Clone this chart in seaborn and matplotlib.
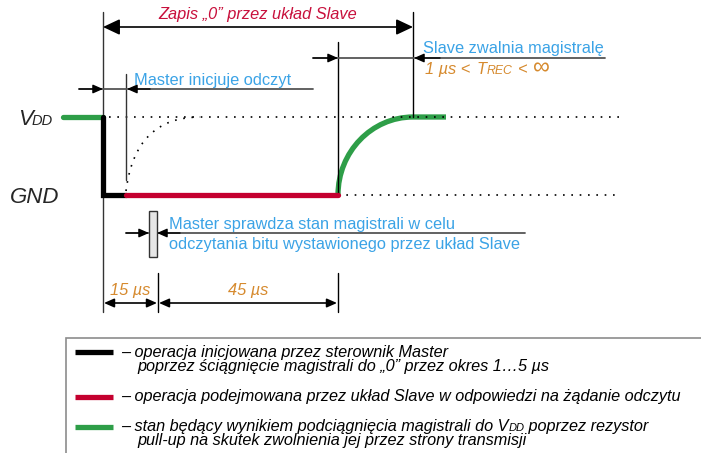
import numpy as np
import seaborn as sns
import matplotlib.pyplot as plt
from matplotlib.path import Path
from matplotlib.patches import PathPatch, Rectangle

# waveform break points (diagram units, left->right) and the two levels
wave_x = [63, 103, 126, 338, 413, 446]
level_vdd = 117
level_gnd = 195
dotted_end = 620

# timing marks at the bottom
marks_x = [103, 158, 338]
marks_lbl = ["15 µs", "45 µs"]

# legend
legend_colors = ["#000000", "#c4002f", "#2e9e48"]
legend_text = [
    ["– operacja inicjowana przez sterownik Master",
     "poprzez ściągnięcie magistrali do „0” przez okres 1…5 µs"],
    ["– operacja podejmowana przez układ Slave w odpowiedzi na żądanie odczytu"],
    ["– stan będący wynikiem podciągnięcia magistrali do V|DD| poprzez rezystor",
     "pull-up na skutek zwolnienia jej przez strony transmisji"],
]

BLUE = "#3ba3e6"
ORANGE = "#d68a2e"
CRIMSON = "#c8103c"
GRAY = "#555555"

sns.set_theme(style="white")
plt.rcParams["font.family"] = ["Liberation Sans", "DejaVu Sans"]

fig = plt.figure(figsize=(7.01, 4.53), dpi=100)
ax = fig.add_axes([0, 0, 1, 1])
ax.set_xlim(0, 701)
ax.set_ylim(453, 0)
ax.axis("off")
renderer = fig.canvas.get_renderer()


def put(x, y, s, **kw):
    # draw text left-aligned and return its right edge (data units)
    t = ax.text(x, y, s, **kw)
    bb = t.get_window_extent(renderer)
    return ax.transData.inverted().transform((bb.x1, bb.y0))[0]


def arrow(tail, tip, big=False, color="black"):
    if big:
        st = "-|>,head_length=0.85,head_width=0.4"
    else:
        st = "-|>,head_length=0.5,head_width=0.22"
    ax.annotate("", xy=tip, xytext=tail,
                arrowprops=dict(arrowstyle=st, color=color, lw=1,
                                shrinkA=0, shrinkB=0))

# dotted reference levels
sns.lineplot(x=[wave_x[1] + 6, dotted_end], y=[level_vdd, level_vdd], ax=ax,
             color="black", linewidth=1.2, linestyle=(0, (1, 4)))
sns.lineplot(x=[wave_x[3], dotted_end], y=[level_gnd, level_gnd], ax=ax,
             color="black", linewidth=1.2, linestyle=(0, (1, 4)))
# dotted rise that would follow without slave
dot = Path([(wave_x[2], level_gnd - 4), (wave_x[2] + 9, level_vdd), (200, level_vdd)],
           [Path.MOVETO, Path.CURVE3, Path.CURVE3])
ax.add_patch(PathPatch(dot, fill=False, lw=1.2, ls=(0, (1, 4)), ec="black"))

# thin vertical guides
ax.plot([103, 103], [12, 312], color="#333333", lw=1)
ax.plot([413, 413], [12, level_vdd], color="black", lw=1)
ax.plot([338, 338], [42, level_gnd], color="black", lw=1)
ax.plot([126, 126], [74, 180], color="#333333", lw=1)
ax.plot([158, 158], [273, 312], color="black", lw=1)
ax.plot([338, 338], [273, 312], color="black", lw=1)

# waveform
sns.lineplot(x=wave_x[0:2], y=[level_vdd, level_vdd], ax=ax, color="#2e9e48",
             linewidth=3.8, solid_capstyle="round")
sns.lineplot(x=[wave_x[1], wave_x[1], wave_x[2]], y=[level_vdd, level_gnd, level_gnd],
             ax=ax, color="black", linewidth=3.8, sort=False, estimator=None,
             solid_joinstyle="miter")
sns.lineplot(x=wave_x[2:4], y=[level_gnd, level_gnd], ax=ax, color="#c4002f",
             linewidth=3.8)
k = 0.552
dx = wave_x[4] - wave_x[3]
dy = level_gnd - level_vdd
rise = Path([(wave_x[3], level_gnd), (wave_x[3], level_gnd - k * dy),
             (wave_x[4] - k * dx, level_vdd), (wave_x[4], level_vdd),
             (wave_x[5], level_vdd)],
            [Path.MOVETO, Path.CURVE4, Path.CURVE4, Path.CURVE4, Path.LINETO])
ax.add_patch(PathPatch(rise, fill=False, lw=3.8, ec="#2e9e48", capstyle="butt"))

# level labels
xe = put(18, 125, "V", fontsize=16, style="italic", va="baseline")
put(xe - 1, 125, "DD", fontsize=10.5, style="italic", va="baseline")
put(10, 203, "GND", fontsize=16, style="italic", va="baseline")

# top: write "0"
ax.annotate("", xy=(413, 27), xytext=(103, 27),
            arrowprops=dict(arrowstyle="<|-|>,head_length=0.85,head_width=0.4",
                            color="black", lw=1.2, shrinkA=0, shrinkB=0))
ax.text(258, 15, "Zapis „0” przez układ Slave", color=CRIMSON, fontsize=11.8,
        style="italic", ha="center", va="center")

# slave releases bus
ax.plot([313, 605], [58, 58], color=GRAY, lw=1.3)
arrow((313, 58), (338, 58))
arrow((440, 58), (414, 58))
ax.text(423, 48, "Slave zwalnia magistralę", color=BLUE, fontsize=11.8,
        va="center")
ok = dict(color=ORANGE, style="italic", va="baseline")
xe = put(425, 74, "1 µs < ", fontsize=11.8, **ok)
xe = put(xe + 2, 74, "T", fontsize=11.8, **ok)
xe = put(xe, 74, "REC", fontsize=8.8, **ok)
xe = put(xe + 5, 74, "<", fontsize=11.8, **ok)
put(xe + 6, 74, "∞", fontsize=17, color=ORANGE, va="baseline")

# master starts read
ax.plot([79, 313], [89, 89], color=GRAY, lw=1.3)
arrow((79, 89), (103, 89))
arrow((150, 89), (127, 89))
ax.text(134, 80, "Master inicjuje odczyt", color=BLUE, fontsize=11.8, va="center")

# master samples bus
ax.plot([126, 525], [233, 233], color=GRAY, lw=1.3)
arrow((126, 233), (149, 233))
arrow((180, 233), (157, 233))
ax.add_patch(Rectangle((149, 211), 8, 46, fc="#e6e6e6", ec="#333333", lw=1, zorder=3))
ax.text(169, 224, "Master sprawdza stan magistrali w celu", color=BLUE,
        fontsize=11.8, va="center")
ax.text(169, 244, "odczytania bitu wystawionego przez układ Slave", color=BLUE,
        fontsize=11.8, va="center")

# timing dimensions
for a, b, lbl in zip(marks_x[:-1], marks_x[1:], marks_lbl):
    ax.annotate("", xy=(b - 1, 303), xytext=(a + 1, 303),
                arrowprops=dict(arrowstyle="<|-|>,head_length=0.5,head_width=0.22",
                                color="black", lw=1.2, shrinkA=0, shrinkB=0))
    ax.text((a + b) / 2, 291, lbl, color=ORANGE, fontsize=11.8, style="italic",
            ha="center", va="center")

# legend box
ax.add_patch(Rectangle((65.5, 337.5), 700, 200, fc="white", ec="#8c8c8c", lw=1.2))
legend_y = [352, 397, 427]
for col, lines, y in zip(legend_colors, legend_text, legend_y):
    ax.plot([75, 113], [y, y], color=col, lw=3.8, solid_capstyle="butt")
    for i, line in enumerate(lines):
        x0 = 121 if i == 0 else 137
        yy = y + 14 * i
        # pieces between "|" are set smaller (subscripts)
        for j, piece in enumerate(line.split("|")):
            if j % 2:
                x0 = put(x0, yy + 4, piece, fontsize=8, style="italic",
                         va="baseline", color="black")
            else:
                x0 = put(x0, yy, piece, fontsize=11.7, style="italic",
                         va="center", color="black")

fig.savefig("out.png", dpi=100)
